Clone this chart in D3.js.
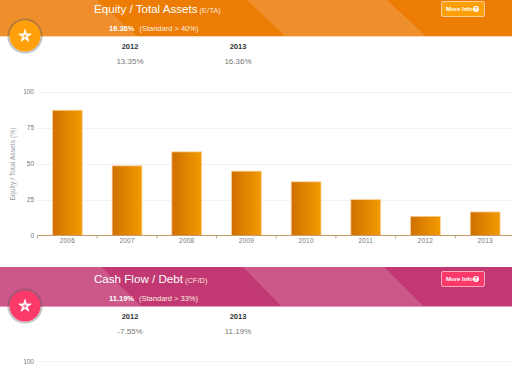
<!DOCTYPE html>
<html>
<head>
<meta charset="utf-8">
<script src="https://cdn.jsdelivr.net/npm/d3@7"></script>
<style>
  html, body { margin: 0; padding: 0; background: #fff; overflow: hidden; }
  svg { display: block; font-family: "Liberation Sans", Arial, sans-serif; }
</style>
</head>
<body>
<div id="chart"></div>
<script>
const years = ['2006', '2007', '2008', '2009', '2010', '2011', '2012', '2013'];
const equityValues = [87, 48.4, 58.1, 44.7, 37.3, 25, 13.35, 16.36];
const yTicks = [0, 25, 50, 75, 100];

const width = 512, height = 384;
const svg = d3.select('#chart').append('svg')
  .attr('width', width)
  .attr('height', height);

const defs = svg.append('defs');
const grad = defs.append('linearGradient').attr('id', 'barFill');
grad.append('stop').attr('offset', '0%').attr('stop-color', '#d06f00');
grad.append('stop').attr('offset', '100%').attr('stop-color', '#f29b00');

// header band with the two lighter diagonal stripes
function drawHeader(o) {
  const g = svg.append('g').attr('transform', `translate(0, ${o.top})`);
  const h = o.h;
  g.append('rect').attr('width', width).attr('height', h).attr('fill', o.dark);
  g.append('rect').attr('y', h).attr('width', width).attr('height', 1).attr('fill', o.edge);

  const stripe = d3.line();
  g.append('path')
    .attr('d', stripe([[0, 0], [o.cut1, 0], [o.cut1 + 40, h], [0, h]]) + 'Z')
    .attr('fill', o.light);
  g.append('path')
    .attr('d', stripe([[o.cut2, 0], [o.cut3, 0], [o.cut3 + 39, h], [o.cut2 + 38, h]]) + 'Z')
    .attr('fill', o.light);

  const title = g.append('text')
    .attr('x', 94).attr('y', o.titleY)
    .attr('fill', '#fff').attr('font-size', 11.6);
  title.append('tspan').text(o.title);
  title.append('tspan').attr('font-size', 7.5).attr('dx', 2).attr('fill', '#fbe6d4').text(o.abbr);

  const sub = g.append('text')
    .attr('x', 109).attr('y', o.subY)
    .attr('fill', '#fff').attr('font-size', 7.5);
  sub.append('tspan').attr('font-weight', 'bold').text(o.current);
  sub.append('tspan').attr('dx', 5).attr('fill', '#fdeee0').text(o.standard);

  // more info button
  const btn = g.append('g').attr('transform', `translate(441, ${o.btnY})`);
  btn.append('rect').attr('x', 0.5).attr('y', 0.5).attr('width', 43).attr('height', 15).attr('rx', 1.5)
    .attr('fill', o.accent).attr('stroke', o.btnEdge);
  btn.append('text').attr('x', 5).attr('y', 10.2)
    .attr('fill', '#fff').attr('font-size', 6).attr('font-weight', 'bold').text('More Info');
  btn.append('circle').attr('cx', 35).attr('cy', 8).attr('r', 3).attr('fill', '#fff');
  btn.append('text').attr('x', 35).attr('y', 10).attr('text-anchor', 'middle')
    .attr('fill', o.accent).attr('font-size', 5.5).attr('font-weight', 'bold').text('?');

  // star badge on the lower edge
  const badge = g.append('g').attr('transform', `translate(25, ${h})`);
  badge.append('circle').attr('r', 16.5).attr('fill', 'none')
    .attr('stroke', '#555').attr('stroke-opacity', 0.35).attr('stroke-width', 2.2);
  badge.append('circle').attr('r', 15.5).attr('fill', o.accent);
  badge.append('path')
    .attr('d', d3.symbol(d3.symbolStar, 48)())
    .attr('fill', '#fff').attr('stroke', '#fff').attr('stroke-width', 0.8)
    .attr('stroke-linejoin', 'round');
  badge.append('path')
    .attr('d', d3.symbol(d3.symbolStar, 9)())
    .attr('fill', o.accent).attr('opacity', 0.75);

  // yearly values below the band
  const cols = [[130, '2012', o.v2012], [238, '2013', o.v2013]];
  cols.forEach(c => {
    g.append('text').attr('x', c[0]).attr('y', h + 13)
      .attr('text-anchor', 'middle').attr('fill', '#333').attr('font-size', 7.5).attr('font-weight', 'bold').text(c[1]);
    g.append('text').attr('x', c[0]).attr('y', h + 28)
      .attr('text-anchor', 'middle').attr('fill', '#777').attr('font-size', 8).text(c[2]);
  });
}

drawHeader({
  top: 0, h: 36, titleY: 13, subY: 31, btnY: 1,
  dark: '#ec7c04', light: '#ee8f2b', edge: '#fbd9b5', accent: '#ffa00a', btnEdge: '#f8cf9c',
  cut1: 97, cut2: 247, cut3: 387,
  title: 'Equity / Total Assets', abbr: '(E/TA)',
  current: '16.36%', standard: '(Standard > 40%)',
  v2012: '13.35%', v2013: '16.36%'
});

drawHeader({
  top: 267, h: 39, titleY: 16, subY: 34, btnY: 4,
  dark: '#c13872', light: '#cb5888', edge: '#e79ab9', accent: '#fb3a69', btnEdge: '#f2a9bd',
  cut1: 101, cut2: 243, cut3: 384,
  title: 'Cash Flow / Debt', abbr: '(CF/D)',
  current: '11.19%', standard: '(Standard > 33%)',
  v2012: '-7.55%', v2013: '11.19%'
});

// bar chart
const x = d3.scaleBand().domain(years).range([37.5, 515]).paddingInner(0.5).paddingOuter(0.25);
const y = d3.scaleLinear().domain([0, 100]).range([235.5, 91.5]);

const grid = svg.append('g').attr('class', 'grid');
grid.selectAll('line').data(yTicks.filter(d => d > 0)).enter().append('line')
  .attr('x1', 37.5).attr('x2', width)
  .attr('y1', d => Math.round(y(d)) + 0.5).attr('y2', d => Math.round(y(d)) + 0.5)
  .attr('stroke', '#f2f2f2');

svg.append('g').selectAll('text').data(yTicks).enter().append('text')
  .attr('x', 34).attr('y', d => y(d) + 2.5)
  .attr('text-anchor', 'end').attr('fill', '#777').attr('font-size', 6.5)
  .text(d => d);

svg.append('text')
  .attr('transform', `translate(15, ${y(50) + 0.5}) rotate(-90)`)
  .attr('text-anchor', 'middle').attr('fill', '#9a9aa5').attr('font-size', 6.8)
  .text('Equity / Total Assets (%)');

svg.append('g').selectAll('rect').data(equityValues).enter().append('rect')
  .attr('x', (d, i) => x(years[i]))
  .attr('y', d => y(d))
  .attr('width', x.bandwidth())
  .attr('height', d => y(0) - y(d))
  .attr('fill', 'url(#barFill)')
  .attr('stroke', '#fdd3a3').attr('stroke-width', 0.8);

const axis = svg.append('g').attr('transform', `translate(0, ${y(0)})`);
axis.append('line').attr('x1', 37.5).attr('x2', width).attr('stroke', '#c99a68').attr('stroke-width', 1);
axis.selectAll('.tick').data(years).enter().append('line')
  .attr('class', 'tick')
  .attr('x1', d => x(d) - x.step() * 0.25).attr('x2', d => x(d) - x.step() * 0.25)
  .attr('y1', 0).attr('y2', 3).attr('stroke', '#aaa');
axis.selectAll('text').data(years).enter().append('text')
  .attr('x', d => x(d) + x.bandwidth() / 2).attr('y', 7.5)
  .attr('text-anchor', 'middle').attr('fill', '#777').attr('font-size', 6.5)
  .attr('letter-spacing', 0.2)
  .text(d => d);

// top of the next chart, only the 100 line shows inside the window
const y2 = d3.scaleLinear().domain([0, 100]).range([505, 361]);
svg.append('line').attr('x1', 37.5).attr('x2', width)
  .attr('y1', y2(100) + 0.5).attr('y2', y2(100) + 0.5).attr('stroke', '#f2f2f2');
svg.append('text').attr('x', 34).attr('y', y2(100) + 2.5)
  .attr('text-anchor', 'end').attr('fill', '#777').attr('font-size', 6.5).text(100);
</script>
</body>
</html>
